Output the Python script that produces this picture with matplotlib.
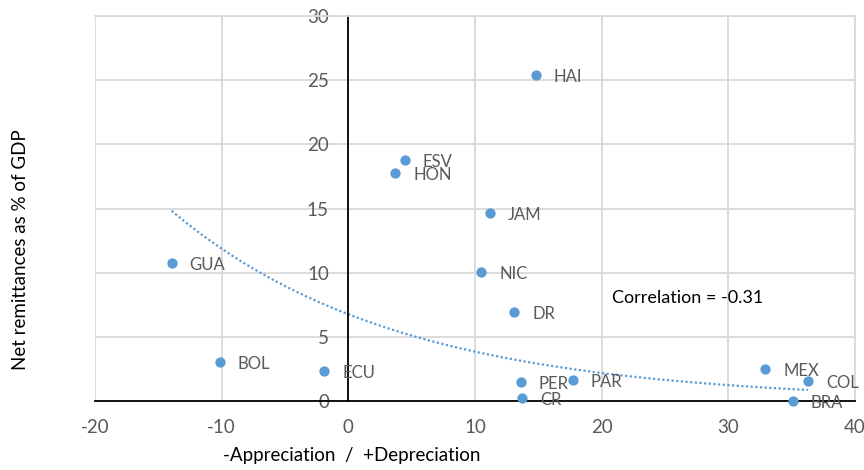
import numpy as np
import matplotlib
matplotlib.use("Agg")
import matplotlib.pyplot as plt

# Exchange-rate change (%) vs. net remittances (% of GDP)
countries = ["HAI", "ESV", "HON", "JAM", "GUA", "NIC", "DR", "BOL",
             "ECU", "PER", "CR", "PAR", "MEX", "COL", "BRA"]
fx_change = [14.8, 4.45, 3.7, 11.15, -13.95, 10.5, 13.1, -10.15,
             -1.9, 13.6, 13.7, 17.7, 32.9, 36.3, 35.1]
remittances = [25.4, 18.8, 17.8, 14.65, 10.76, 10.05, 6.95, 3.07,
               2.36, 1.5, 0.28, 1.66, 2.49, 1.58, 0.06]

x_ticks = [-20, -10, 0, 10, 20, 30, 40]
y_ticks = [0, 5, 10, 15, 20, 25, 30]
correlation_text = "Correlation = -0.31"

plt.rcParams["font.family"] = ["Lato", "DejaVu Sans"]

BLUE = "#5B9BD5"
GRAY_TXT = "#595959"
GRID = "#D9D9D9"

fig = plt.figure(figsize=(8.64, 4.70), dpi=100)
ax = fig.add_axes([95 / 864, 1 - 401.3 / 470, (855 - 95) / 864, (401.3 - 15.7) / 470])

ax.set_xlim(-20, 40)
ax.set_ylim(0, 30)
ax.set_xticks(x_ticks)
ax.set_yticks(y_ticks)
ax.set_xticklabels([str(t) for t in x_ticks])
ax.set_yticklabels([str(t) for t in y_ticks])

ax.grid(True, color=GRID, linewidth=1.3, zorder=0)
ax.set_axisbelow(True)

# y axis sits on x = 0
ax.spines["left"].set_position(("data", 0))
ax.spines["left"].set_color("black")
ax.spines["left"].set_linewidth(1.3)
ax.spines["bottom"].set_color("black")
ax.spines["bottom"].set_linewidth(1.3)
for s in ("top", "right"):
    ax.spines[s].set_color(GRID)
    ax.spines[s].set_linewidth(1.3)

ax.tick_params(axis="both", length=0, labelsize=13.5, colors=GRAY_TXT)
ax.tick_params(axis="y", pad=14)
ax.tick_params(axis="x", pad=13)

# exponential trend line fitted on the data
xs = np.array(fx_change)
ys = np.array(remittances)
b, ln_a = np.polyfit(xs, np.log(ys), 1)
xt = np.linspace(xs.min(), xs.max(), 300)
ax.plot(xt, np.exp(ln_a) * np.exp(b * xt), color=BLUE, linestyle=(0, (1, 1.1)),
        linewidth=1.6, zorder=2, clip_on=False)

ax.scatter(fx_change, remittances, s=55, color=BLUE, zorder=3, clip_on=False,
           linewidths=0)

for name, xv, yv in zip(countries, fx_change, remittances):
    ax.annotate(name, (xv, yv), xytext=(13, -1.5), textcoords="offset points",
                ha="left", va="center", fontsize=12, color=GRAY_TXT,
                zorder=4, annotation_clip=False)

ax.text(20.85, 8.06, correlation_text, ha="left", va="center", fontsize=13,
        color="black")

ax.set_xlabel("-Appreciation  /  +Depreciation", fontsize=13.5, color="black")
ax.xaxis.set_label_coords((352 - 95) / (855 - 95), -(447 - 401.3) / (401.3 - 15.7))
ax.set_ylabel("Net remittances as % of GDP", fontsize=13.5, color="black")
ax.yaxis.set_label_coords(-(95 - 29) / (855 - 95), (401.3 - 250) / (401.3 - 15.7))

fig.savefig("out.png", dpi=100)
